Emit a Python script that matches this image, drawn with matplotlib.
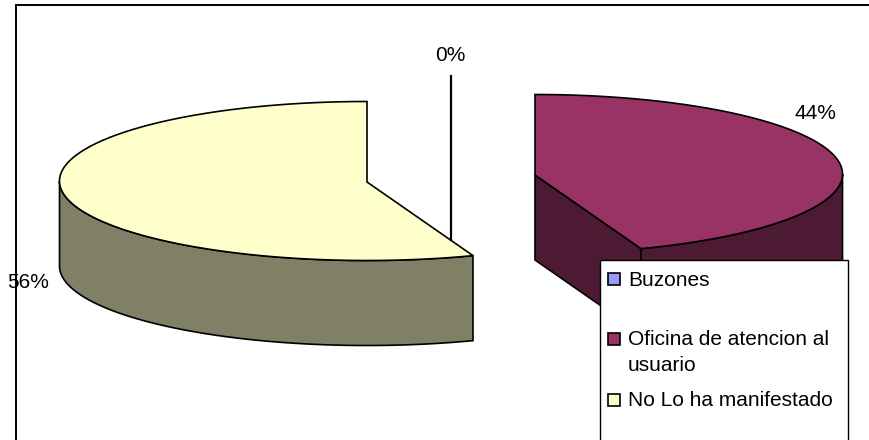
import numpy as np
import matplotlib
matplotlib.use('Agg')
import matplotlib.pyplot as plt
from matplotlib.patches import Polygon, Rectangle

plt.rcParams['font.family'] = ['Liberation Sans', 'DejaVu Sans']

categories = ['Buzones', 'Oficina de atencion al\nusuario', 'No Lo ha manifestado']
values = [0, 44.4, 55.6]
labels = ['0%', '44%', '56%']
top_colors = ['#9999ff', '#993366', '#ffffcc']
side_colors = ['#4d4d80', '#4d1a33', '#808066']

W, H = 869, 440
A, B, DEPTH = 307.5, 79.5, 85
centers = {1: (535, 174), 2: (367, 181)}
LW = 1.2


def arc(cx, cy, start, end, dy=0):
    # angles are clockwise from 12 o'clock, in percent of the pie
    t = np.radians(np.linspace(start, end, 200) * 3.6)
    return np.column_stack([cx + A * np.sin(t), cy - B * np.cos(t) + dy])


fig = plt.figure(figsize=(W / 100, H / 100), dpi=100)
ax = fig.add_axes([0, 0, 1, 1])
ax.set_xlim(0, W)
ax.set_ylim(H, 0)
ax.axis('off')

# frame runs off the right and bottom of the picture
ax.add_patch(Rectangle((16, 5), 900, 480, fc='white', ec='black', lw=1.4))

starts = np.cumsum([0] + values[:-1])

# right slice (44%)
s, e = starts[1], starts[1] + values[1]
cx, cy = centers[1]
ax.add_patch(Polygon([(cx, cy + 1), (cx, cy + 1 + DEPTH), *arc(cx, cy, e, e, DEPTH), *arc(cx, cy, e, e)],
                     fc=side_colors[1], ec='black', lw=LW))
rim = arc(cx, cy, 25, e)
ax.add_patch(Polygon(np.vstack([rim, (rim + [0, DEPTH])[::-1]]), fc=side_colors[1], ec='black', lw=LW))
ax.add_patch(Polygon(np.vstack([[(cx, cy + 1)], arc(cx, cy, s, e)]), fc=top_colors[1], ec='black', lw=LW))

# left slice (56%)
s, e = starts[2], starts[2] + values[2]
cx, cy = centers[2]
rim = arc(cx, cy, s, 75)
ax.add_patch(Polygon(np.vstack([rim, (rim + [0, DEPTH])[::-1]]), fc=side_colors[2], ec='black', lw=LW))
ax.add_patch(Polygon(np.vstack([[(cx, cy + 1)], arc(cx, cy, s, e)]), fc=top_colors[2], ec='black', lw=LW))

# 0% slice seen as a line
ax.plot([451, 451], [76, 240], color='black', lw=1.6)

fs = 15
ax.text(450, 55.5, labels[0], ha='center', va='center', fontsize=fs)
ax.text(815, 113.5, labels[1], ha='center', va='center', fontsize=fs)
ax.text(28, 282.5, labels[2], ha='center', va='center', fontsize=fs)

# legend box
ax.add_patch(Rectangle((600, 260), 248, 200, fc='white', ec='black', lw=1, zorder=5))
for col, y in zip(top_colors, [279, 339.5, 400]):
    ax.add_patch(Rectangle((608, y - 6), 12, 12, fc=col, ec='black', lw=1.2, zorder=6))
for y, cat in zip([280, 352.5, 400], categories):
    ax.text(628, y, cat, ha='left', va='center', fontsize=fs, linespacing=1.45, zorder=6)

fig.savefig('out.png', dpi=100)
